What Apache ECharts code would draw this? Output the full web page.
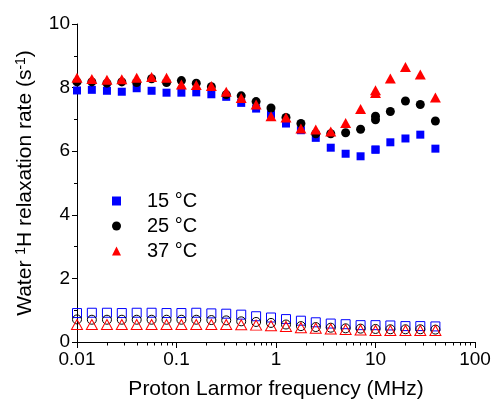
<!DOCTYPE html>
<html>
<head>
<meta charset="utf-8">
<script src="https://cdn.jsdelivr.net/npm/echarts@6/dist/echarts.min.js"></script>
<style>
  html, body { margin: 0; padding: 0; background: #fff; }
  #chart-container { width: 494px; height: 401px; }
</style>
</head>
<body>
<div id="chart-container"></div>
<script>
// proton Larmor frequency (MHz), filled points (10 MHz measured twice)
const freq = [0.01, 0.0141, 0.02, 0.0282, 0.0398, 0.0562, 0.0794, 0.112, 0.158, 0.224,
  0.316, 0.447, 0.631, 0.891, 1.26, 1.78, 2.51, 3.55, 5.01, 7.08, 10, 10, 14.1, 20, 28.2, 40];
const t15 = [7.91, 7.93, 7.90, 7.87, 7.98, 7.90, 7.84, 7.84, 7.85, 7.79,
  7.71, 7.52, 7.34, 7.16, 6.87, 6.66, 6.42, 6.11, 5.92, 5.84, 6.05, 6.05, 6.28, 6.40, 6.52, 6.08];
const t25 = [8.18, 8.18, 8.14, 8.18, 8.16, 8.28, 8.16, 8.22, 8.14, 8.03,
  7.78, 7.74, 7.56, 7.36, 7.06, 6.87, 6.55, 6.55, 6.58, 6.69, 6.99, 7.10, 7.25, 7.58, 7.47, 6.95];
const t37 = [8.31, 8.27, 8.25, 8.26, 8.31, 8.33, 8.31, 8.10, 8.08, 8.05,
  7.87, 7.67, 7.47, 7.10, 7.06, 6.71, 6.68, 6.62, 6.89, 7.33, 7.83, 7.92, 8.29, 8.65, 8.41, 7.69];

// open symbols
const freqOpen = [0.01, 0.0141, 0.02, 0.0282, 0.0398, 0.0562, 0.0794, 0.112, 0.158, 0.224,
  0.316, 0.447, 0.631, 0.891, 1.26, 1.78, 2.51, 3.55, 5.01, 7.08, 10, 14.1, 20, 28.2, 40];
const o15 = [0.91, 0.92, 0.92, 0.91, 0.92, 0.92, 0.91, 0.91, 0.92, 0.90,
  0.89, 0.86, 0.81, 0.77, 0.72, 0.67, 0.62, 0.58, 0.56, 0.53, 0.53, 0.52, 0.50, 0.50, 0.49];
const o25 = [0.71, 0.70, 0.70, 0.70, 0.70, 0.70, 0.70, 0.70, 0.70, 0.69,
  0.68, 0.65, 0.63, 0.60, 0.55, 0.50, 0.47, 0.45, 0.43, 0.42, 0.41, 0.40, 0.40, 0.40, 0.39];
const o37 = [0.55, 0.55, 0.55, 0.55, 0.55, 0.55, 0.55, 0.55, 0.55, 0.55,
  0.55, 0.54, 0.53, 0.51, 0.49, 0.45, 0.43, 0.41, 0.39, 0.38, 0.36, 0.36, 0.36, 0.36, 0.36];

const names = ['15 °C', '25 °C', '37 °C'];
const xTicks = [0.01, 0.1, 1, 10, 100];
const minorDigits = [2, 3, 4, 5, 6, 7, 8, 9];

const font = 'Liberation Sans, Arial, sans-serif';

function pairs(xs, ys) {
  return xs.map((x, i) => [x, ys[i]]);
}

var dom = document.getElementById('chart-container');
var myChart = echarts.init(dom, null, { renderer: 'canvas' });

var option = {
  animation: false,
  grid: { left: 77, right: 19, top: 24, bottom: 59, outerBoundsMode: 'none', containLabel: false },
  legend: {
    orient: 'vertical',
    left: 107,
    top: 186,
    itemWidth: 9,
    itemHeight: 9,
    itemGap: 5,
    data: names,
    textStyle: { fontFamily: font, fontSize: 20, color: '#000', padding: [0, 0, 0, 21] }
  },
  xAxis: {
    type: 'log',
    logBase: 10,
    min: 0.01,
    max: 100,
    name: 'Proton Larmor frequency (MHz)',
    nameLocation: 'middle',
    nameGap: 37,
    nameTextStyle: { fontFamily: font, fontSize: 21, color: '#000' },
    axisLine: { onZero: false, lineStyle: { color: '#000', width: 1 } },
    axisTick: { length: 6, lineStyle: { color: '#000' } },
    axisLabel: {
      fontFamily: font, fontSize: 19, color: '#000', margin: 8,
      formatter: v => String(v)
    },
    splitLine: { show: false }
  },
  yAxis: {
    type: 'value',
    min: 0,
    max: 10,
    interval: 2,
    name: '{t|Water }{s|1}{t|H relaxation rate (s}{s|-1}{t|)}',
    nameLocation: 'middle',
    nameGap: 40,
    nameTextStyle: {
      fontFamily: font, fontSize: 21, color: '#000',
      rich: {
        t: { fontFamily: font, fontSize: 21, color: '#000' },
        s: { fontFamily: font, fontSize: 14, color: '#000', padding: [0, 0, 9, 0] }
      }
    },
    axisLine: { show: true, onZero: false, lineStyle: { color: '#000', width: 1 } },
    axisTick: { length: 5, lineStyle: { color: '#000' } },
    minorTick: { show: true, splitNumber: 2, length: 3, lineStyle: { color: '#000' } },
    axisLabel: { fontFamily: font, fontSize: 19, color: '#000', margin: 7 },
    splitLine: { show: false }
  },
  series: [
    {
      name: 'open 15', type: 'scatter', symbol: 'rect', symbolSize: 9,
      itemStyle: { color: 'rgba(0,0,0,0)', borderColor: '#0000ff', borderWidth: 1, opacity: 1 },
      data: pairs(freqOpen, o15)
    },
    {
      name: 'open 25', type: 'scatter', symbol: 'circle', symbolSize: 9,
      itemStyle: { color: 'rgba(0,0,0,0)', borderColor: '#000', borderWidth: 1, opacity: 1 },
      data: pairs(freqOpen, o25)
    },
    {
      name: 'open 37', type: 'scatter', symbol: 'triangle', symbolSize: [11, 10],
      itemStyle: { color: 'rgba(0,0,0,0)', borderColor: '#ff0000', borderWidth: 1, opacity: 1 },
      data: pairs(freqOpen, o37)
    },
    {
      name: names[0], type: 'scatter', symbol: 'rect', symbolSize: 8,
      itemStyle: { color: '#0000ff', opacity: 1 },
      data: pairs(freq, t15)
    },
    {
      name: names[1], type: 'scatter', symbol: 'circle', symbolSize: 9,
      itemStyle: { color: '#000', opacity: 1 },
      data: pairs(freq, t25)
    },
    {
      name: names[2], type: 'scatter', symbol: 'triangle', symbolSize: [11, 10],
      itemStyle: { color: '#ff0000', opacity: 1 },
      data: pairs(freq, t37)
    }
  ]
};

if (option && typeof option === 'object') {
  myChart.setOption(option);
}

// minor ticks of the log axis (2..9 in each decade), placed through the axis scale
function drawMinorTicks() {
  const y0 = myChart.convertToPixel({ yAxisIndex: 0 }, 0);
  const lines = [];
  xTicks.slice(0, -1).forEach(d => {
    minorDigits.forEach(m => {
      const px = Math.round(myChart.convertToPixel({ xAxisIndex: 0 }, d * m)) + 0.5;
      lines.push({
        type: 'line',
        silent: true,
        shape: { x1: px, y1: y0, x2: px, y2: y0 + 3.5 },
        style: { stroke: '#000', lineWidth: 1 }
      });
    });
  });
  myChart.setOption({ graphic: lines });
}
drawMinorTicks();

window.addEventListener('resize', function () {
  myChart.resize();
  drawMinorTicks();
});
</script>
</body>
</html>
